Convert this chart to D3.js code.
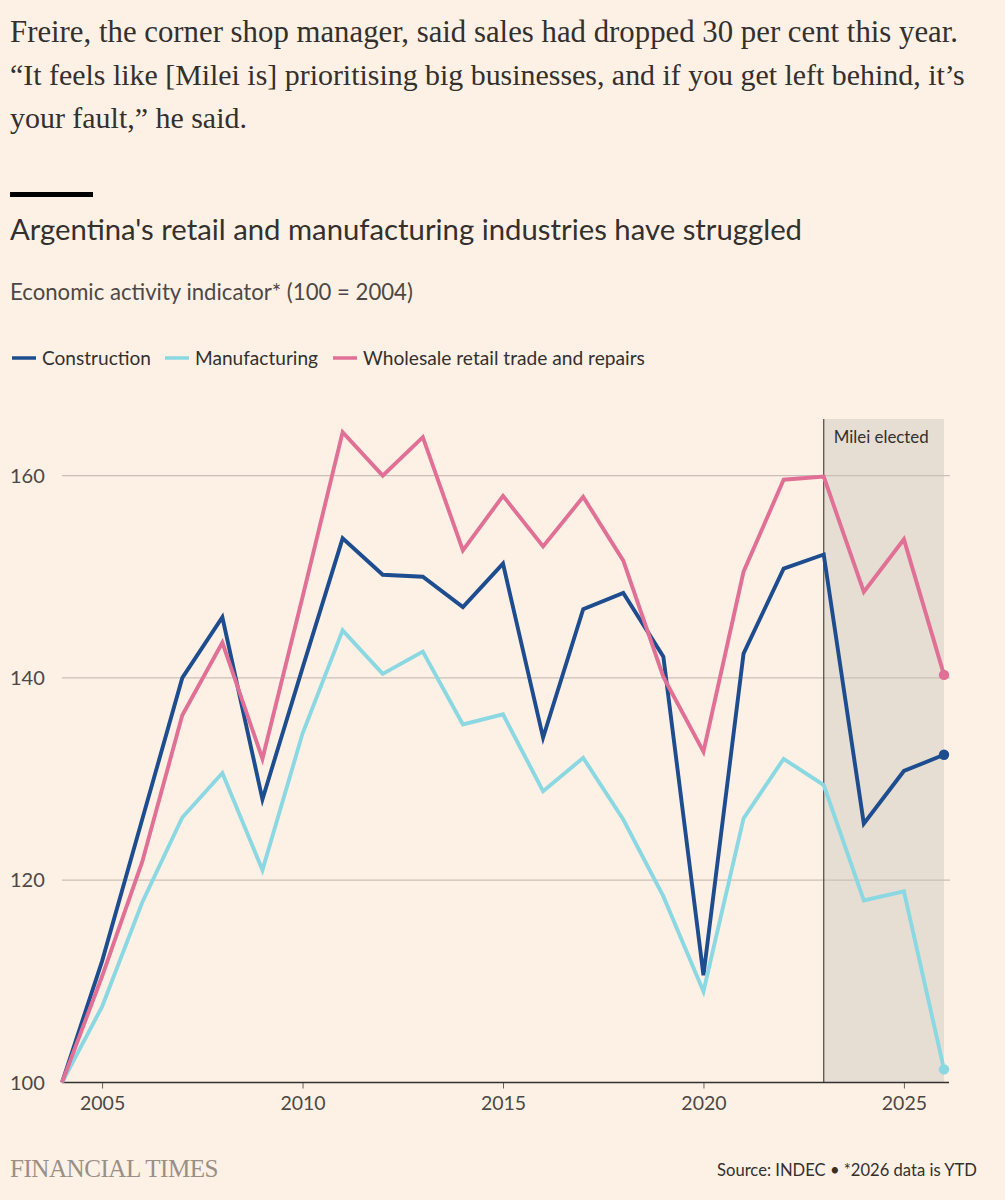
<!DOCTYPE html>
<html>
<head>
<meta charset="utf-8">
<title>Argentina retail and manufacturing</title>
<script src="https://d3js.org/d3.v7.min.js"></script>
<style>
  body { margin: 0; background: #fdf1e6; }
  svg text { font-family: Lato, "Noto Sans", sans-serif; }
</style>
</head>
<body>
<div id="viz"></div>
<script>

// data
var years = [2004, 2005, 2006, 2007, 2008, 2009, 2010, 2011, 2012, 2013, 2014, 2015,
             2016, 2017, 2018, 2019, 2020, 2021, 2022, 2023, 2024, 2025, 2026];
var construction = [100, 112, 126, 140, 146, 128, 141, 153.8, 150.2, 150, 147, 151.3,
                    134.1, 146.8, 148.4, 142.1, 110.6, 142.4, 150.8, 152.2, 125.6, 130.8, 132.4];
var manufacturing = [100, 107.5, 117.8, 126.2, 130.6, 121, 134.5, 144.7, 140.4, 142.6, 135.4, 136.4,
                     128.8, 132.1, 126, 118.4, 109, 126.1, 132, 129.4, 118, 118.9, 101.3];
var retail = [100, 110.5, 121.8, 136.3, 143.5, 132, 148, 164.3, 160, 163.8, 152.6, 158,
              153, 157.9, 151.6, 140.1, 132.7, 150.5, 159.6, 159.9, 148.5, 153.7, 140.3];
var seriesNames = ["Construction", "Manufacturing", "Wholesale retail trade and repairs"];
var seriesColors = ["#1e4d8f", "#8bd8e2", "#e07096"];
var yTicks = [100, 120, 140, 160];
var xTicks = [2005, 2010, 2015, 2020, 2025];
var mileiYear = 2023;

var series = [construction, manufacturing, retail].map(function(vals, i) {
  return { name: seriesNames[i], color: seriesColors[i],
           values: vals.map(function(v, j) { return { year: years[j], value: v }; }) };
});

var W = 1005, H = 1200;
var svg = d3.select("#viz").append("svg")
  .attr("width", W).attr("height", H)
  .style("display", "block");

svg.append("rect").attr("width", W).attr("height", H).attr("fill", "#fdf1e6");

// scale a text's font size until it spans a given width
function fitWidth(t, w) {
  var len = t.node().getComputedTextLength();
  var fs = parseFloat(t.attr("font-size"));
  t.attr("font-size", (fs * w / len).toFixed(2));
}

// quote paragraph (widths per line)
var serif = "'Liberation Serif', 'DejaVu Serif', serif";
var quote = [
  "Freire, the corner shop manager, said sales had dropped 30 per cent this year.",
  "\u201CIt feels like [Milei is] prioritising big businesses, and if you get left behind, it\u2019s",
  "your fault,\u201D he said."
];
var quoteW = [948, 955, 237];
quote.forEach(function(s, i) {
  var t = svg.append("text").attr("x", 10).attr("y", 42 + i * 43)
    .attr("font-size", 26).style("font-family", serif)
    .attr("fill", "#33302e").text(s);
  fitWidth(t, quoteW[i]);
});

// black rule + title
svg.append("rect").attr("x", 10).attr("y", 192).attr("width", 83).attr("height", 5).attr("fill", "#000");
var title = svg.append("text").attr("x", 10).attr("y", 240)
  .attr("font-size", 27).attr("fill", "#33302e")
  .text("Argentina's retail and manufacturing industries have struggled");
fitWidth(title, 792);

var sub = svg.append("text").attr("x", 10).attr("y", 300)
  .attr("font-size", 19).attr("fill", "#4d4845")
  .text("Economic activity indicator* (100 = 2004)");
fitWidth(sub, 403);

// legend
var legX = [12, 165, 333];
var legW = [109, 123, 282];
series.forEach(function(s, i) {
  var g = svg.append("g").attr("transform", "translate(" + legX[i] + ",358)");
  g.append("line").attr("x1", 0).attr("x2", 24).attr("y1", 0).attr("y2", 0)
    .attr("stroke", s.color).attr("stroke-width", 3.5);
  var t = g.append("text").attr("x", 30).attr("y", 6.5).attr("font-size", 18)
    .attr("fill", "#33302e").text(s.name);
  fitWidth(t, legW[i]);
});

// scales
var x = d3.scaleLinear().domain([2004, 2026]).range([62, 944]);
var y = d3.scaleLinear().domain([100, 165.6]).range([1082.5, 419]);

// Milei shading
svg.append("rect")
  .attr("x", x(mileiYear)).attr("y", y(165.6))
  .attr("width", x(2026) - x(mileiYear)).attr("height", y(100) - y(165.6))
  .attr("fill", "#e6ddd3");

// gridlines + y labels
yTicks.forEach(function(t) {
  if (t > 100) {
    svg.append("line").attr("x1", 62).attr("x2", 950)
      .attr("y1", y(t)).attr("y2", y(t))
      .attr("stroke", "#c9bfb6").attr("stroke-width", 1.3);
  }
  svg.append("text").attr("x", 10).attr("y", y(t) + 7)
    .attr("font-size", 20).attr("fill", "#4d4845").text(t);
});

// Milei line + label
svg.append("line").attr("x1", x(mileiYear)).attr("x2", x(mileiYear))
  .attr("y1", y(165.6)).attr("y2", y(100))
  .attr("stroke", "#4d4845").attr("stroke-width", 1.2);
var ml = svg.append("text").attr("x", x(mileiYear) + 10).attr("y", 443)
  .attr("font-size", 16).attr("fill", "#33302e").text("Milei elected");
fitWidth(ml, 95);

// x axis
var xAxis = svg.append("g").attr("transform", "translate(0," + y(100) + ")")
  .call(d3.axisBottom(x).tickValues(xTicks).tickFormat(d3.format("d"))
    .tickSize(6).tickPadding(8));
xAxis.select(".domain").remove();
xAxis.selectAll(".tick line").attr("stroke", "#66605c");
xAxis.selectAll(".tick text").attr("font-size", 19.5).attr("fill", "#4d4845")
  .style("font-family", "Lato, 'Noto Sans', sans-serif");
svg.append("line").attr("x1", 62).attr("x2", 949)
  .attr("y1", y(100)).attr("y2", y(100))
  .attr("stroke", "#33302e").attr("stroke-width", 1.3);

// lines
var line = d3.line()
  .x(function(d) { return x(d.year); })
  .y(function(d) { return y(d.value); });

series.forEach(function(s) {
  svg.append("path").datum(s.values)
    .attr("fill", "none").attr("stroke", s.color)
    .attr("stroke-width", 3.9).attr("stroke-linejoin", "miter")
    .attr("d", line);
  var last = s.values[s.values.length - 1];
  svg.append("circle").attr("cx", x(last.year)).attr("cy", y(last.value))
    .attr("r", 5.2).attr("fill", s.color);
});

// footer
var ft = svg.append("text").attr("x", 10).attr("y", 1177)
  .attr("font-size", 22).style("font-family", "'Liberation Serif', serif")
  .attr("fill", "#9a8f86").attr("letter-spacing", -0.5).text("FINANCIAL TIMES");
fitWidth(ft, 207);
var src = svg.append("text").attr("x", 977).attr("y", 1176)
  .attr("text-anchor", "end").attr("font-size", 16).attr("fill", "#33302e")
  .text("Source: INDEC \u2022 *2026 data is YTD");
fitWidth(src, 260);

</script>
</body>
</html>
